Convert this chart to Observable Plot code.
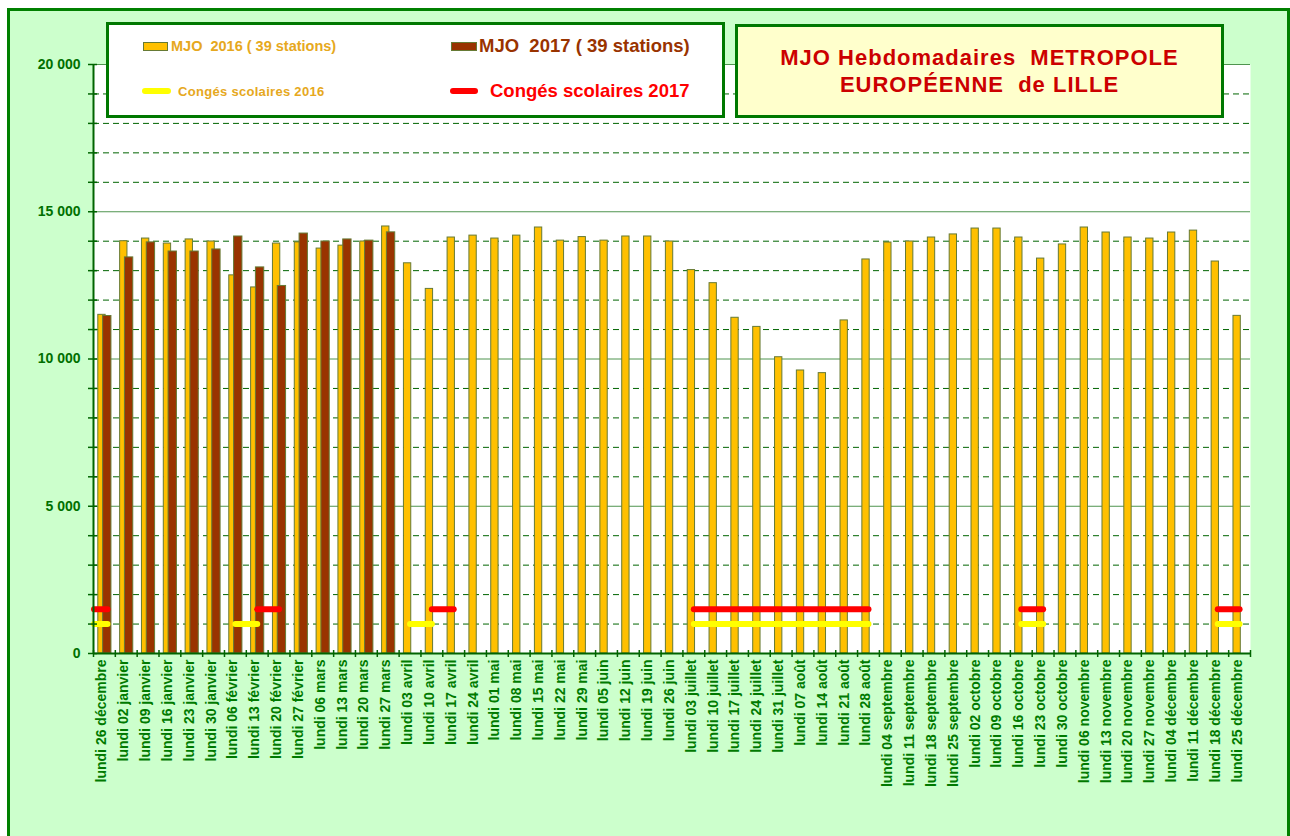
<!DOCTYPE html>
<html>
<head>
<meta charset="utf-8">
<script src="https://cdn.jsdelivr.net/npm/d3@7"></script>
<script src="https://cdn.jsdelivr.net/npm/@observablehq/plot@0.6"></script>
<style>
  body { margin: 0; background: #ffffff; font-family: "Liberation Sans", Arial, sans-serif; }
  #wrap { position: relative; width: 1290px; height: 836px; overflow: hidden; }
  #outer { position: absolute; left: 7px; top: 8px; width: 1283px; height: 900px; box-sizing: border-box; border: 3px solid #008000; background: #ccffcc; }
  #chart { position: absolute; left: 0; top: 0; }
  .box { position: absolute; box-sizing: border-box; border: 3.5px solid #007800; }
  .txt { position: absolute; white-space: pre; font-weight: bold; line-height: 1; }
  .sw { position: absolute; box-sizing: border-box; }
</style>
</head>
<body>
<div id="wrap">
  <div id="outer"></div>
  <div id="chart"></div>
  <div class="box" style="left:106px;top:22px;width:619px;height:96px;background:#ffffff;"></div>
  <div class="sw" style="left:143px;top:42px;width:25px;height:9px;background:#ffc000;border:1px solid #667a35;"></div>
  <div class="txt" id="l16" style="left:171px;top:39px;font-size:14.5px;color:#e6a820;"></div>
  <div class="sw" style="left:451px;top:42px;width:26px;height:9px;background:#993300;border:1px solid #667a35;"></div>
  <div class="txt" id="l17" style="left:479px;top:37px;font-size:18.5px;color:#993300;"></div>
  <div class="sw" style="left:142px;top:88px;width:29px;height:6px;background:#ffff00;border-radius:3px;"></div>
  <div class="txt" id="c16" style="left:178px;top:85px;font-size:13px;letter-spacing:0.3px;color:#e6a820;"></div>
  <div class="sw" style="left:450px;top:88px;width:28px;height:6px;background:#ff0000;border-radius:3px;"></div>
  <div class="txt" id="c17" style="left:490px;top:82px;font-size:18.5px;color:#ff0000;"></div>
  <div class="box" style="left:735px;top:24px;width:489px;height:94px;background:#ffffcc;"></div>
  <div class="txt" id="title" style="left:735px;top:44px;width:489px;text-align:center;font-size:22px;line-height:27px;letter-spacing:1px;color:#cc0000;"></div>
</div>
<script>
// ---------- data ----------
const weeks = [
  "lundi 26 décembre", "lundi 02 janvier", "lundi 09 janvier", "lundi 16 janvier", "lundi 23 janvier",
  "lundi 30 janvier", "lundi 06 février", "lundi 13 février", "lundi 20 février", "lundi 27 février",
  "lundi 06 mars", "lundi 13 mars", "lundi 20 mars", "lundi 27 mars", "lundi 03 avril",
  "lundi 10 avril", "lundi 17 avril", "lundi 24 avril", "lundi 01 mai", "lundi 08 mai",
  "lundi 15 mai", "lundi 22 mai", "lundi 29 mai", "lundi 05 juin", "lundi 12 juin",
  "lundi 19 juin", "lundi 26 juin", "lundi 03 juillet", "lundi 10 juillet", "lundi 17 juillet",
  "lundi 24 juillet", "lundi 31 juillet", "lundi 07 août", "lundi 14 août", "lundi 21 août",
  "lundi 28 août", "lundi 04 septembre", "lundi 11 septembre", "lundi 18 septembre", "lundi 25 septembre",
  "lundi 02 octobre", "lundi 09 octobre", "lundi 16 octobre", "lundi 23 octobre", "lundi 30 octobre",
  "lundi 06 novembre", "lundi 13 novembre", "lundi 20 novembre", "lundi 27 novembre", "lundi 04 décembre",
  "lundi 11 décembre", "lundi 18 décembre", "lundi 25 décembre"
];
const mjo2016 = [
  11500, 14000, 14090, 13920, 14060, 13990, 12840, 12430, 13920, 13960,
  13750, 13850, 13990, 14500, 13250, 12380, 14125, 14190, 14090, 14190,
  14465, 14020, 14140, 14020, 14160, 14160, 13990, 13020, 12575, 11400,
  11090, 10060, 9610, 9520, 11310, 13380, 13955, 13990, 14125, 14230,
  14430, 14430, 14125, 13410, 13890, 14465, 14295, 14125, 14090, 14295,
  14360, 13310, 11465
];
const mjo2017 = [
  11460, 13450, 13960, 13650, 13650, 13720, 14160, 13110, 12480, 14260,
  13990, 14060, 14020, 14300
];
const conges2016 = [
  ["lundi 26 décembre", "lundi 26 décembre"],
  ["lundi 06 février", "lundi 13 février"],
  ["lundi 03 avril", "lundi 10 avril"],
  ["lundi 03 juillet", "lundi 28 août"],
  ["lundi 16 octobre", "lundi 23 octobre"],
  ["lundi 18 décembre", "lundi 25 décembre"]
];
const conges2017 = [
  ["lundi 26 décembre", "lundi 26 décembre"],
  ["lundi 13 février", "lundi 20 février"],
  ["lundi 10 avril", "lundi 17 avril"],
  ["lundi 03 juillet", "lundi 28 août"],
  ["lundi 16 octobre", "lundi 23 octobre"],
  ["lundi 18 décembre", "lundi 25 décembre"]
];
const niveauConges2016 = 1000;
const niveauConges2017 = 1500;
const yLabelTicks = [0, 5000, 10000, 15000, 20000];
const yMinorGrid = [1000, 2000, 3000, 4000, 6000, 7000, 8000, 9000, 11000, 12000, 13000, 14000, 16000, 17000, 18000, 19000];
const yAllTicks = [0, 1000, 2000, 3000, 4000, 5000, 6000, 7000, 8000, 9000, 10000, 11000, 12000, 13000, 14000, 15000, 16000, 17000, 18000, 19000, 20000];
const legend16 = "MJO  2016 ( 39 stations)";
const legend17 = "MJO  2017 ( 39 stations)";
const legendC16 = "Congés scolaires 2016";
const legendC17 = "Congés scolaires 2017";
const titre = "MJO Hebdomadaires  METROPOLE\nEUROPÉENNE  de LILLE";

// ---------- texts ----------
document.getElementById("l16").textContent = legend16;
document.getElementById("l17").textContent = legend17;
document.getElementById("c16").textContent = legendC16;
document.getElementById("c17").textContent = legendC17;
document.getElementById("title").textContent = titre;

// ---------- tables ----------
const rows2016 = weeks.map((w, i) => ({week: w, value: mjo2016[i]}));
const rows2017 = mjo2017.map((v, i) => ({week: weeks[i], value: v}));
const seg = (list, level) => list.map(([a, b]) => ({start: a, end: b, value: level}));
const v16 = seg(conges2016, niveauConges2016);
const v17 = seg(conges2017, niveauConges2017);
const multi16 = v16.filter(d => d.start !== d.end), single16 = v16.filter(d => d.start === d.end);
const multi17 = v17.filter(d => d.start !== d.end), single17 = v17.filter(d => d.start === d.end);

const W = 1290, H = 836, ML = 93, MR = 40, MT = 64, MB = 183;
const bw = (W - ML - MR) / weeks.length;
const fmt = d => d3.format(",")(d).replace(/,/g, " ");
const barStroke = "#667a35";
const axisGreen = "#006400";

const chart = Plot.plot({
  width: W, height: H,
  marginLeft: ML, marginRight: MR, marginTop: MT, marginBottom: MB,
  style: {background: "transparent", fontFamily: "Liberation Sans, Arial, sans-serif", overflow: "visible"},
  x: {type: "band", domain: weeks, padding: 0, label: null},
  y: {domain: [0, 20000], label: null},
  marks: [
    Plot.frame({fill: "white", stroke: "none"}),
    Plot.ruleY(yMinorGrid, {stroke: "#006400", strokeDasharray: "6,4", strokeWidth: 1}),
    Plot.ruleY(yLabelTicks, {stroke: "#4f944f", strokeWidth: 1}),
    Plot.barY(rows2016, {x: "week", y: "value", fill: "#ffc000", stroke: barStroke, strokeWidth: 1, insetLeft: 4.8, insetRight: 9.7}),
    Plot.barY(rows2017, {x: "week", y: "value", fill: "#993300", stroke: barStroke, strokeWidth: 1, insetLeft: 9.6, insetRight: 3.9}),
    Plot.link(multi16, {x1: "start", x2: "end", y1: "value", y2: "value", stroke: "#ffff00", strokeWidth: 6, strokeLinecap: "round"}),
    Plot.link(multi17, {x1: "start", x2: "end", y1: "value", y2: "value", stroke: "#ff0000", strokeWidth: 6, strokeLinecap: "round"}),
    Plot.ruleY(single16, {x1: "start", x2: "end", y: "value", stroke: "#ffff00", strokeWidth: 6, strokeLinecap: "round", insetLeft: 1, insetRight: 7.3}),
    Plot.ruleY(single17, {x1: "start", x2: "end", y: "value", stroke: "#ff0000", strokeWidth: 6, strokeLinecap: "round", insetLeft: 1, insetRight: 7.3}),
    Plot.ruleY([0], {stroke: axisGreen, strokeWidth: 2}),
    Plot.ruleX([weeks[0]], {dx: -bw / 2, stroke: axisGreen, strokeWidth: 2}),
    Plot.axisY({ticks: yAllTicks, tickSize: 9, dx: 4, tickFormat: () => "", stroke: axisGreen, strokeWidth: 1.5}),
    Plot.axisY({ticks: yLabelTicks, tickSize: 0, tickPadding: 13, tickFormat: fmt, fontSize: 14, fontWeight: "bold", color: "#007000"}),
    Plot.axisX({tickSize: 7, dy: -3, dx: -bw / 2, tickFormat: () => "", stroke: axisGreen, strokeWidth: 1.5}),
    Plot.axisX({ticks: [weeks[weeks.length - 1]], tickSize: 7, dy: -3, dx: bw / 2, tickFormat: () => "", stroke: axisGreen, strokeWidth: 1.5}),
    Plot.axisX({tickSize: 0, tickPadding: 6, tickRotate: -90, dx: -2.5, fontSize: 14, fontWeight: "bold", color: "#007a00"})
  ]
});
document.getElementById("chart").appendChild(chart);
</script>
</body>
</html>
